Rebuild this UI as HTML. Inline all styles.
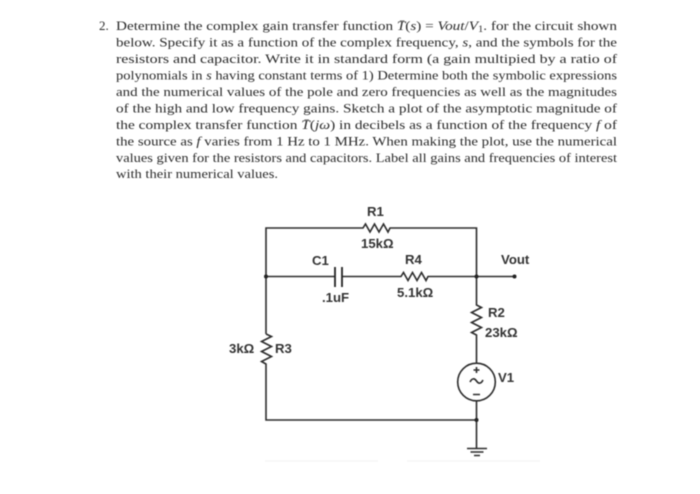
<!DOCTYPE html>
<html><head><meta charset="utf-8">
<style>
html,body{margin:0;padding:0;background:#fff}
svg{display:block;filter:blur(.45px)}
.t{font-family:"Liberation Serif","DejaVu Serif",serif;font-size:13px;fill:#2a2a2a}
.i{font-style:italic}
.c{font-family:"Liberation Sans","DejaVu Sans",sans-serif;font-size:13.2px;font-weight:bold;fill:#333}
.w{fill:none;stroke:#2c2c2c;stroke-width:1.6}
</style></head><body>
<svg width="700" height="494" viewBox="0 0 700 494" xmlns="http://www.w3.org/2000/svg">
<g class="t">
<text x="99" y="30">2.</text>
<text x="116" y="30" textLength="501" lengthAdjust="spacingAndGlyphs">Determine the complex gain transfer function <tspan class="i">T̄</tspan>(<tspan class="i">s</tspan>) = <tspan class="i">Vout</tspan>/<tspan class="i">V</tspan><tspan font-size="9" dy="2">1</tspan><tspan dy="-2">. for the circuit shown</tspan></text>
<text x="116" y="46.5" textLength="501" lengthAdjust="spacingAndGlyphs">below.  Specify it as a function of the complex frequency, <tspan class="i">s</tspan>, and the symbols for the</text>
<text x="116" y="63" textLength="501" lengthAdjust="spacingAndGlyphs">resistors and capacitor.  Write it in standard form (a gain multipied by a ratio of</text>
<text x="116" y="79.5" textLength="501" lengthAdjust="spacingAndGlyphs">polynomials in <tspan class="i">s</tspan> having constant terms of 1) Determine both the symbolic expressions</text>
<text x="116" y="96" textLength="501" lengthAdjust="spacingAndGlyphs">and the numerical values of the pole and zero frequencies as well as the magnitudes</text>
<text x="116" y="112.5" textLength="501" lengthAdjust="spacingAndGlyphs">of the high and low frequency gains.  Sketch a plot of the asymptotic magnitude of</text>
<text x="116" y="129" textLength="501" lengthAdjust="spacingAndGlyphs">the complex transfer function <tspan class="i">T̄</tspan>(<tspan class="i">jω</tspan>) in decibels as a function of the frequency <tspan class="i">f</tspan> of</text>
<text x="116" y="145.5" textLength="501" lengthAdjust="spacingAndGlyphs">the source as <tspan class="i">f</tspan> varies from 1 Hz to 1 MHz.  When making the plot, use the numerical</text>
<text x="116" y="162" textLength="501" lengthAdjust="spacingAndGlyphs">values given for the resistors and capacitors. Label all gains and frequencies of interest</text>
<text x="116" y="178" textLength="162" lengthAdjust="spacingAndGlyphs">with their numerical values.</text>
</g>

<g class="w">
<path d="M266 334V228H363l2.500-4 4.500 8 4.500-8 4.500 8 4.500-8 4.500 8 2-4H476.500V305l5 2.500-10 5 10 5-10 5 10 5-10 5 5 2.500V363"/>
<path d="M266 276.500H335M342 276.500H401l2.500-4 4.500 8 4.500-8 4.500 8 4.500-8 4.500 8 2-4H514"/>
<path d="M266 334l5.500 2.500-10 5 10 5-10 5 10 5-10 5 4.500 2.500V420H476.500"/>
<circle cx="476.500" cy="382" r="18.800"/>
<path d="M476.500 401V448"/>
<path d="M473.500 370h6M476.500 367v6M473 394.500h7"/>
<path d="M470 382c2-4 4.500-4 6.500-1s4.500 3 6.500-1"/>
<path d="M467 448.500h20M470.500 452h13M474 455.500h6"/>
</g>
<path d="M335 267V287M342 267V287" stroke="#222" stroke-width="1.8" fill="none"/>
<circle cx="266" cy="276.500" r="2" fill="#222"/>
<circle cx="476.500" cy="276.500" r="2" fill="#222"/>
<circle cx="514.500" cy="276.500" r="2" fill="#222"/>
<circle cx="476.500" cy="420" r="2" fill="#222"/>

<g class="c">
<text x="367" y="216">R1</text>
<text x="361" y="248">15kΩ</text>
<text x="312" y="265">C1</text>
<text x="322" y="302">.1uF</text>
<text x="405" y="264">R4</text>
<text x="397" y="297">5.1kΩ</text>
<text x="501" y="264">Vout</text>
<text x="488" y="317">R2</text>
<text x="485" y="337">23kΩ</text>
<text x="229" y="353">3kΩ</text>
<text x="275" y="353">R3</text>
<text x="498" y="382">V1</text>
</g>
<path d="M265 461H378M407 461H540" stroke="#f2f2f2" stroke-width="1" fill="none"/>
</svg>
</body></html>
